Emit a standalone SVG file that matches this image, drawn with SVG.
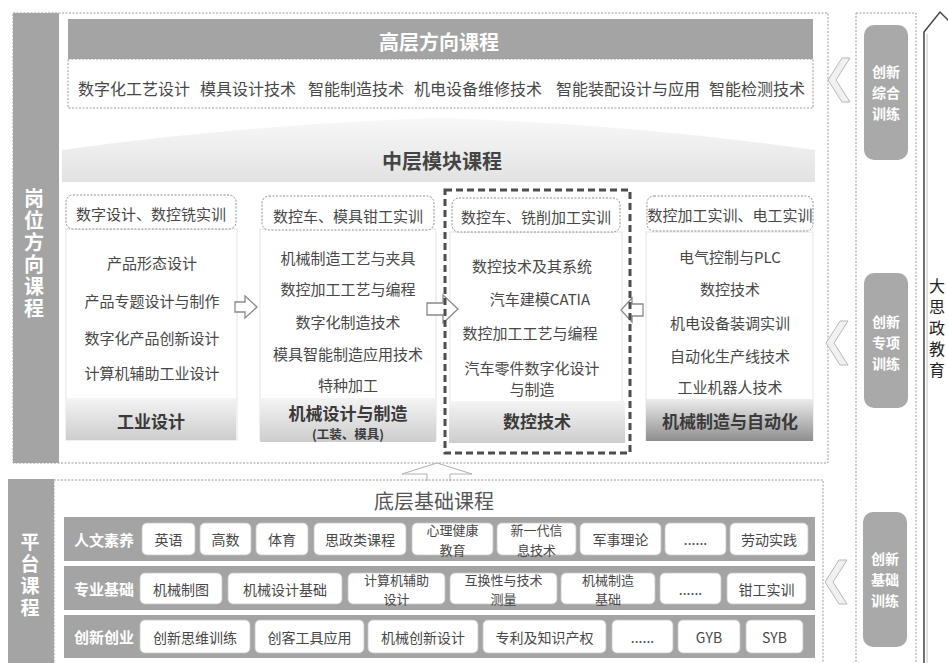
<svg xmlns="http://www.w3.org/2000/svg" width="948" height="663" viewBox="0 0 948 663">
<defs>
<style>
text{font-family:"Noto Sans CJK SC","Noto Sans CJK JP",sans-serif}
.it{font-size:15px;fill:#474747;text-anchor:middle;dominant-baseline:central}
.top{font-size:16px;fill:#474747;dominant-baseline:central}
.wb{fill:#fff;font-weight:bold;text-anchor:middle;dominant-baseline:central}
.vt{writing-mode:vertical-rl;text-orientation:upright;text-anchor:middle}
.dot{fill:none;stroke:#9a9a9a;stroke-width:1;stroke-dasharray:2 1.5}
.bar{fill:#a4a4a4}
.hbox{fill:#fff;stroke:#8c8c8c;stroke-width:1;stroke-dasharray:2 1.5}
.card{fill:#fff;stroke:#e3e3e3;stroke-width:1}
.ft{font-size:17px;font-weight:bold;fill:#3a3a3a;text-anchor:middle;dominant-baseline:central}
.cb{fill:#fff;stroke:#c8c8c8;stroke-width:0.8}
.bt{font-size:14px;fill:#474747;text-anchor:middle;dominant-baseline:central}
.b2{font-size:13px}
.arw{fill:#fff;stroke:#8a8a8a;stroke-width:1.3}
.chev{fill:#f1f1f1;stroke:#b8b8b8;stroke-width:1}
.pill{fill:#a9a9a9}
</style>
<linearGradient id="gFt" x1="0" y1="0" x2="0" y2="1">
<stop offset="0" stop-color="#f4f4f4"/><stop offset="1" stop-color="#cdcdcd"/>
</linearGradient>
<linearGradient id="gFt4" x1="0" y1="0" x2="0" y2="1">
<stop offset="0" stop-color="#ececec"/><stop offset="1" stop-color="#8e8e8e"/>
</linearGradient>
<linearGradient id="gRoof" x1="0" y1="0" x2="0" y2="1">
<stop offset="0" stop-color="#f8f8f8"/><stop offset="1" stop-color="#e2e2e2"/>
</linearGradient>
</defs>
<rect width="948" height="663" fill="#fff"/>

<!-- upper section -->
<g id="upper-frame">
<rect class="dot" x="13" y="13" width="815" height="450"/>
<rect class="bar" x="13" y="13" width="46" height="450"/>
<text class="wb vt" font-size="20" letter-spacing="2" x="34" y="254">岗位方向课程</text>
</g>

<g id="top-courses">
<rect class="bar" x="68" y="19" width="745" height="40" fill="#a9a9a9"/>
<text class="wb" font-size="20" x="439" y="41">高层方向课程</text>
<rect class="dot" x="68" y="59" width="745" height="49"/>
<text class="top" x="78" y="88">数字化工艺设计</text>
<text class="top" x="200" y="88">模具设计技术</text>
<text class="top" x="308" y="88">智能制造技术</text>
<text class="top" x="414" y="88">机电设备维修技术</text>
<text class="top" x="556" y="88">智能装配设计与应用</text>
<text class="top" x="709" y="88">智能检测技术</text>
</g>

<g id="mid-title">
<path d="M62,182 L62,150 Q250,124 440,118 Q630,124 815,150 L815,182 Z" fill="url(#gRoof)"/>
<text x="442" y="160" font-size="20" font-weight="bold" fill="#444" text-anchor="middle" dominant-baseline="central">中层模块课程</text>
</g>

<g id="col-industrial-design">
<rect class="card" x="66" y="229" width="171" height="211"/>
<rect class="hbox" x="66" y="195" width="170" height="34" rx="7"/>
<text class="it" x="151" y="213">数字设计、数控铣实训</text>
<text class="it" x="152" y="262">产品形态设计</text>
<text class="it" x="152" y="300">产品专题设计与制作</text>
<text class="it" x="152" y="337">数字化产品创新设计</text>
<text class="it" x="152" y="372">计算机辅助工业设计</text>
<rect x="66" y="398" width="170" height="42" fill="url(#gFt)"/>
<text class="ft" x="151" y="420">工业设计</text>
</g>

<g id="col-mech-design">
<rect class="card" x="260" y="229" width="176" height="211"/>
<rect class="hbox" x="262" y="196" width="172" height="34" rx="7"/>
<text class="it" x="348" y="215">数控车、模具钳工实训</text>
<text class="it" x="348" y="257">机械制造工艺与夹具</text>
<text class="it" x="348" y="288">数控加工工艺与编程</text>
<text class="it" x="348" y="321">数字化制造技术</text>
<text class="it" x="348" y="353">模具智能制造应用技术</text>
<text class="it" x="348" y="384">特种加工</text>
<rect x="260" y="398" width="176" height="44" fill="url(#gFt)"/>
<text class="ft" x="348" y="412">机械设计与制造<tspan x="348" dy="21" font-size="12.5">(工装、模具)</tspan></text>
</g>

<g id="col-cnc">
<rect class="card" x="450" y="232" width="172" height="210"/>
<rect class="hbox" x="452" y="198" width="168" height="34" rx="7"/>
<text class="it" x="536" y="216">数控车、铣削加工实训</text>
<text class="it" x="532" y="265">数控技术及其系统</text>
<text class="it" x="540" y="298">汽车建模CATIA</text>
<text class="it" x="530" y="332">数控加工工艺与编程</text>
<text class="it" x="532" y="367" font-size="14">汽车零件数字化设计<tspan x="532" dy="20.5">与制造</tspan></text>
<rect x="449" y="401" width="176" height="42" fill="url(#gFt)"/>
<text class="ft" x="537" y="420">数控技术</text>
</g>

<g id="col-automation">
<rect class="card" x="646" y="232" width="167" height="208"/>
<rect class="hbox" x="647" y="196" width="166" height="35" rx="7"/>
<text class="it" x="730" y="214">数控加工实训、电工实训</text>
<text class="it" x="730" y="256">电气控制与PLC</text>
<text class="it" x="730" y="288">数控技术</text>
<text class="it" x="730" y="322">机电设备装调实训</text>
<text class="it" x="730" y="355">自动化生产线技术</text>
<text class="it" x="730" y="386">工业机器人技术</text>
<rect x="646" y="399" width="167" height="42" fill="url(#gFt4)"/>
<text class="ft" x="730" y="420">机械制造与自动化</text>
</g>

<g id="connectors">
<path class="arw" d="M235,302 L245,302 L245,296 L257,307 L245,318 L245,312 L235,312 Z"/>
<path class="arw" d="M427,303 L443,303 L443,295 L458,309 L443,323 L443,315 L427,315 Z"/>
<path class="arw" d="M643,304 L632,304 L632,298 L621,310 L632,322 L632,316 L643,316 Z"/>
<rect x="445" y="190" width="185" height="263" fill="none" stroke="#4d4d4d" stroke-width="3" stroke-dasharray="7 4"/>
<path d="M427,481 L427,474 L402,474 L437,463 L472,474 L450,474 L450,481" fill="#fff" stroke="#b0b0b0" stroke-width="1"/>
<path class="chev" d="M842,58 L850,58 L836,80 L850,102 L842,102 L828,80 Z"/>
<path class="chev" d="M840,321 L848,321 L834,343 L848,365 L840,365 L826,343 Z"/>
<path class="chev" d="M839,560 L847,560 L833,582 L847,604 L839,604 L825,582 Z"/>
</g>

<!-- lower section -->
<g id="lower-frame">
<rect class="dot" x="54" y="480" width="769" height="190"/>
<rect class="bar" x="8" y="479" width="46" height="190"/>
<text class="wb vt" font-size="19" letter-spacing="3" x="30" y="576">平台课程</text>
<text x="434" y="500" font-size="20" fill="#555" text-anchor="middle" dominant-baseline="central">底层基础课程</text>
</g>

<g id="row-humanities">
<rect class="bar" x="64" y="517" width="751" height="44"/>
<text class="wb" font-size="15" x="104" y="539">人文素养</text>
<rect class="cb" x="142" y="523" width="53" height="32" rx="5"/><text class="bt" x="168.5" y="539">英语</text>
<rect class="cb" x="200" y="523" width="51" height="32" rx="5"/><text class="bt" x="225.5" y="539">高数</text>
<rect class="cb" x="256" y="523" width="52" height="32" rx="5"/><text class="bt" x="282" y="539">体育</text>
<rect class="cb" x="314" y="523" width="92" height="32" rx="5"/><text class="bt" x="360" y="539">思政类课程</text>
<rect class="cb" x="412" y="523" width="81" height="32" rx="5"/><text class="bt b2" x="452.5" y="529.5">心理健康<tspan x="452.5" dy="19">教育</tspan></text>
<rect class="cb" x="497" y="523" width="79" height="32" rx="5"/><text class="bt b2" x="536.5" y="529.5">新一代信<tspan x="536.5" dy="19">息技术</tspan></text>
<rect class="cb" x="580" y="523" width="81" height="32" rx="5"/><text class="bt" x="620.5" y="539">军事理论</text>
<rect class="cb" x="665" y="523" width="61" height="32" rx="5"/><text class="bt" x="695.5" y="539" font-size="11">......</text>
<rect class="cb" x="730" y="523" width="78" height="32" rx="5"/><text class="bt" x="769" y="539">劳动实践</text>
</g>

<g id="row-professional">
<rect class="bar" x="64" y="566" width="751" height="44"/>
<text class="wb" font-size="15" x="104" y="588">专业基础</text>
<rect class="cb" x="140" y="573" width="82" height="31" rx="5"/><text class="bt" x="181" y="588.5">机械制图</text>
<rect class="cb" x="228" y="573" width="114" height="31" rx="5"/><text class="bt" x="285" y="588.5">机械设计基础</text>
<rect class="cb" x="348" y="573" width="97" height="31" rx="5"/><text class="bt b2" x="396.5" y="579">计算机辅助<tspan x="396.5" dy="19">设计</tspan></text>
<rect class="cb" x="450" y="573" width="107" height="31" rx="5"/><text class="bt b2" x="503.5" y="579">互换性与技术<tspan x="503.5" dy="19">测量</tspan></text>
<rect class="cb" x="561" y="573" width="94" height="31" rx="5"/><text class="bt b2" x="608" y="579">机械制造<tspan x="608" dy="19">基础</tspan></text>
<rect class="cb" x="660" y="573" width="61" height="31" rx="5"/><text class="bt" x="690.5" y="588.5" font-size="11">......</text>
<rect class="cb" x="727" y="573" width="79" height="31" rx="5"/><text class="bt" x="766.5" y="588.5">钳工实训</text>
</g>

<g id="row-innovation">
<rect class="bar" x="64" y="615" width="751" height="43"/>
<text class="wb" font-size="15" x="104" y="636.5">创新创业</text>
<rect class="cb" x="140" y="620" width="110" height="33" rx="5"/><text class="bt" x="195" y="636.5">创新思维训练</text>
<rect class="cb" x="255" y="620" width="109" height="33" rx="5"/><text class="bt" x="309.5" y="636.5">创客工具应用</text>
<rect class="cb" x="368" y="620" width="110" height="33" rx="5"/><text class="bt" x="423" y="636.5">机械创新设计</text>
<rect class="cb" x="483" y="620" width="123" height="33" rx="5"/><text class="bt" x="544.5" y="636.5">专利及知识产权</text>
<rect class="cb" x="612" y="620" width="61" height="33" rx="5"/><text class="bt" x="642.5" y="636.5" font-size="11">......</text>
<rect class="cb" x="678" y="620" width="62" height="33" rx="5"/><text class="bt" x="709" y="636.5">GYB</text>
<rect class="cb" x="746" y="620" width="57" height="33" rx="5"/><text class="bt" x="774.5" y="636.5">SYB</text>
</g>

<!-- right side -->
<g id="innovation-column">
<rect class="dot" x="856" y="13" width="60" height="660"/>
</g>
<g id="pill-comprehensive">
<rect class="pill" x="864" y="25" width="44" height="135" rx="10"/>
<text class="wb" font-size="14" x="886" y="71">创新<tspan x="886" dy="21">综合</tspan><tspan x="886" dy="21">训练</tspan></text>
</g>
<g id="pill-special">
<rect class="pill" x="864" y="273" width="44" height="135" rx="10"/>
<text class="wb" font-size="14" x="886" y="321">创新<tspan x="886" dy="21">专项</tspan><tspan x="886" dy="21">训练</tspan></text>
</g>
<g id="pill-basic">
<rect class="pill" x="863" y="512" width="44" height="135" rx="10"/>
<text class="wb" font-size="14" x="885" y="558">创新<tspan x="885" dy="21">基础</tspan><tspan x="885" dy="21">训练</tspan></text>
</g>
<g id="ideology-arrow">
<path d="M924,663 L924,32 L940,12 L952,24" fill="none" stroke="#444" stroke-width="1.5"/>
<path d="M927,663 L927,34" fill="none" stroke="#c4c4c4" stroke-width="1"/>
<text class="vt" x="937" y="330" font-size="16" letter-spacing="5" fill="#222">大思政教育</text>
</g>
</svg>
